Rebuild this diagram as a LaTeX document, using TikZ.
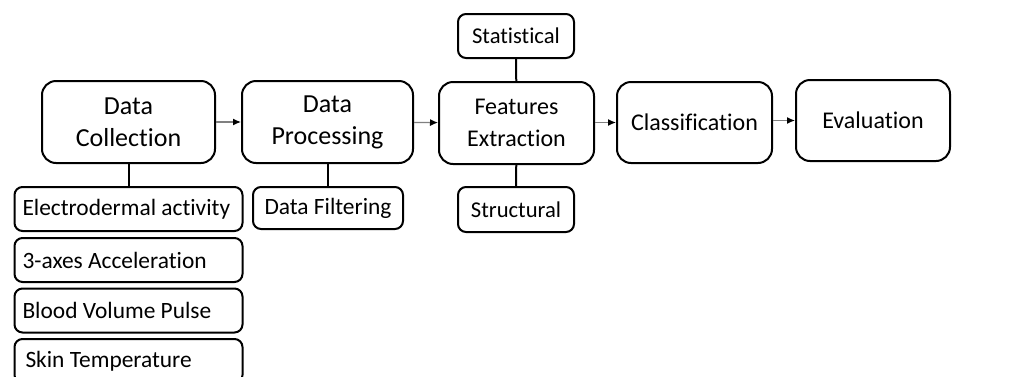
\documentclass[tikz,border=0pt]{standalone}
\usepackage{fontspec}
\setmainfont{Carlito}[Ligatures=NoCommon]
\usetikzlibrary{arrows.meta}

\begin{document}
\begin{tikzpicture}[x=0.5pt,y=-0.5pt,
  stage/.style={draw=black, line width=1pt, rounded corners=7pt, align=center,
    font=\fontsize{12}{16}\selectfont, minimum height=41pt, inner sep=0pt},
  sub/.style={draw=black, line width=1pt, rounded corners=4pt,
    font=\fontsize{11.7}{13}\selectfont, minimum height=22pt, inner sep=0pt},
  sensor/.style={sub, minimum width=114pt, text width=110pt, align=flush left},
  flow/.style={draw=gray, line width=0.6pt, -{Latex[length=4pt,width=3.5pt,color=black]}},
  link/.style={draw=black, line width=1pt}]
\useasboundingbox (0,0) rectangle (1014,376);

% main stages
\node[stage, minimum width=86.5pt, font=\fontsize{13}{16}\selectfont](coll) at (128.5,122) {Data\\Collection};
\node[stage, minimum width=85.5pt, font=\fontsize{13}{16}\selectfont](proc) at (327.5,122) {Data\\Processing};
\node[stage, minimum width=77.5pt](feat) at (516.5,123) {Features\\Extraction};
\node[stage, minimum width=77.5pt, minimum height=40.5pt](clas) at (694.5,122.5) {Classification};
\node[stage, minimum width=77pt, minimum height=40.5pt](eval) at (873,120.5) {Evaluation};

% sub steps
\node[sensor](eda) at (128.5,209) {\hspace{2pt}Electrodermal activity};
\node[sensor](acc) at (128.5,260) {\hspace{2pt}3-axes Acceleration};
\node[sensor](bvp) at (128.5,310.5) {\hspace{2pt}Blood Volume Pulse};
\node[sensor](skin) at (128.5,361) {\hspace{3.5pt}Skin Temperature};
\node[sub, minimum width=75pt, minimum height=21pt](filt) at (328,208) {Data Filtering};
\node[sub, minimum width=58pt, font=\fontsize{11.3}{13}\selectfont](stat) at (516,36) {Statistical};
\node[sub, minimum width=58pt, minimum height=22.5pt, font=\fontsize{11.3}{13}\selectfont](struc) at (516,209.5) {Structural};

\draw[flow] (coll) -- (proc);
\draw[flow] (proc) -- (feat);
\draw[flow] (feat.east |- clas.west) -- (clas.west);
\draw[flow] (clas.east |- eval.west) -- (eval.west);

\draw[link] (coll) -- (eda);
\draw[link] (proc.south -| filt) -- (filt);
\draw[link] (stat) -- (feat);
\draw[link] (feat) -- (struc);
\end{tikzpicture}
\end{document}
